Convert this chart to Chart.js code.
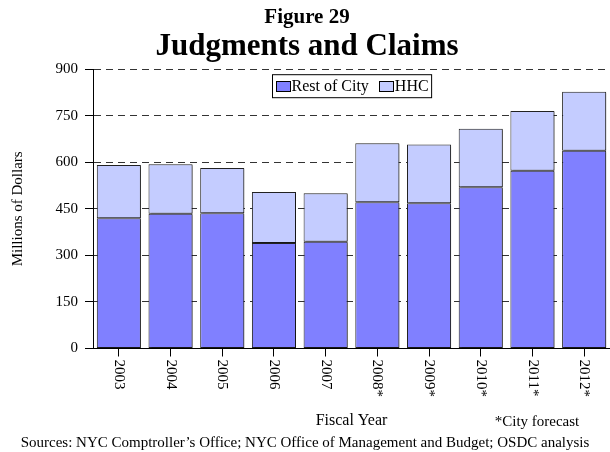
<!DOCTYPE html>
<html><head><meta charset="utf-8">
<script src="https://cdn.jsdelivr.net/npm/chart.js@4.4.1/dist/chart.umd.min.js"></script>
<style>html,body{margin:0;padding:0;background:#fff}#wrap{width:610px;height:452px;position:relative;overflow:hidden}</style>
</head><body><div id="wrap"><canvas id="c" width="610" height="452"></canvas></div>
<script>
const categories = ['2003','2004','2005','2006','2007','2008*','2009*','2010*','2011*','2012*'];
const restOfCity = [420,434,436,340,344,471,468,520,573,637];
const hhc = [171,160,146,164,156,190,189,188,192,190];
const yTicks = [0,150,300,450,600,750,900];
const seriesNames = ['Rest of City','HHC'];
const seriesColors = ['#8080FF','#C4CCFF'];
const titleText = 'Figure 29';
const subtitleText = 'Judgments and Claims';
const yTitle = 'Millions of Dollars';
const xTitle = 'Fiscal Year';
const noteText = '*City forecast';
const sourceText = 'Sources: NYC Comptroller\u2019s Office; NYC Office of Management and Budget; OSDC analysis';

const F = "'Liberation Serif','Times New Roman',serif";
const FS = 15;

const barShadow = {
  id:'barShadow',
  beforeDatasetsDraw(chart){
    const ctx = chart.ctx;
    ctx.save();
    ctx.shadowColor = 'rgba(0,0,0,0.35)';
    ctx.shadowOffsetX = 2;
    ctx.shadowOffsetY = 1;
    ctx.shadowBlur = 0;
  },
  afterDatasetsDraw(chart){ chart.ctx.restore(); }
};

const overlay = {
  id:'overlay',
  afterDraw(chart){
    const ctx = chart.ctx, ca = chart.chartArea, xs = chart.scales.x;
    ctx.save();
    ctx.fillStyle = '#000';
    ctx.font = FS + 'px ' + F;
    // rotated category labels
    chart.data.labels.forEach((lab,i)=>{
      const x = xs.getPixelForTick(i);
      ctx.save();
      ctx.translate(x, ca.bottom + 11);
      ctx.rotate(Math.PI/2);
      ctx.textAlign='left'; ctx.textBaseline='middle';
      ctx.fillText(lab,0,0);
      ctx.restore();
    });
    // legend
    ctx.font = '16px ' + F;
    const sw=14, sh=10, gapT=2, gapI=10, pad=3, bh=23;
    const widths = chart.data.datasets.map(d=>ctx.measureText(d.label).width);
    let total = pad*2 + widths.reduce((a,w)=>a+sw+gapT+w,0) + gapI*(widths.length-1);
    const cx = (ca.left+ca.right)/2;
    const bx = Math.round(cx - total/2)+0.5, by = ca.top + 5.5;
    ctx.fillStyle='#fff'; ctx.fillRect(bx,by,total,bh);
    ctx.strokeStyle='#000'; ctx.lineWidth=1; ctx.strokeRect(bx,by,total,bh);
    let x = bx + pad;
    chart.data.datasets.forEach((d,i)=>{
      const sy = by + (bh-sh)/2;
      ctx.fillStyle=d.backgroundColor; ctx.fillRect(Math.round(x)+0.5, Math.round(sy)+0.5, sw, sh);
      ctx.strokeStyle='#000'; ctx.strokeRect(Math.round(x)+0.5, Math.round(sy)+0.5, sw, sh);
      x += sw + gapT;
      ctx.fillStyle='#000'; ctx.textAlign='left'; ctx.textBaseline='middle';
      ctx.fillText(d.label, x, by + bh/2 + 1);
      x += widths[i] + gapI;
    });
    // notes
    ctx.font = FS + 'px ' + F;
    ctx.textAlign='center'; ctx.textBaseline='middle'; ctx.fillStyle='#000';
    ctx.fillText(noteText, 537, 422);
    ctx.fillText(sourceText, 305, 443);
    ctx.restore();
  }
};

new Chart(document.getElementById('c'), {
  type:'bar',
  data:{
    labels: categories,
    datasets:[
      {label:seriesNames[0], data:restOfCity, backgroundColor:seriesColors[0], borderColor:'#222', borderWidth:1, borderSkipped:false},
      {label:seriesNames[1], data:hhc, backgroundColor:seriesColors[1], borderColor:'#222', borderWidth:1, borderSkipped:false}
    ]
  },
  options:{
    responsive:false, animation:false, devicePixelRatio:1,
    barPercentage:0.853, categoryPercentage:1,
    layout:{padding:{left:0,right:-4,top:0,bottom:0}},
    plugins:{
      legend:{display:false}, tooltip:{enabled:false},
      title:{display:true,text:titleText,color:'#000',font:{family:F,size:21,weight:'bold',lineHeight:1.2},padding:{top:5,bottom:0}},
      subtitle:{display:true,text:subtitleText,color:'#000',font:{family:F,size:31,weight:'bold',lineHeight:1.0},padding:{top:1,bottom:7}}
    },
    scales:{
      x:{
        stacked:true, offset:true,
        grid:{display:true, drawOnChartArea:false, offset:false, tickLength:8, color:'#000', tickColor:'#000'},
        border:{display:true,color:'#000',width:1},
        ticks:{display:false},
        title:{display:true,text:xTitle,color:'#000',font:{family:F,size:16},padding:{top:0,bottom:22}},
        afterFit(s){ s.height = 103.5; }
      },
      y:{
        stacked:true, min:0, max:900,
        afterBuildTicks(s){ s.ticks = yTicks.map(v=>({value:v})); },
        grid:{display:true, color:'#333', tickColor:'#000', tickLength:8, tickBorderDash:[], drawTicks:true},
        border:{display:true,color:'#000',width:1,dash:[7,5]},
        ticks:{color:'#000',font:{family:F,size:FS},padding:7},
        title:{display:true,text:yTitle,color:'#000',font:{family:F,size:FS},padding:{top:9,bottom:0}},
        afterFit(s){ s.width = 93; }
      }
    }
  },
  plugins:[barShadow, overlay]
});
</script></body></html>
